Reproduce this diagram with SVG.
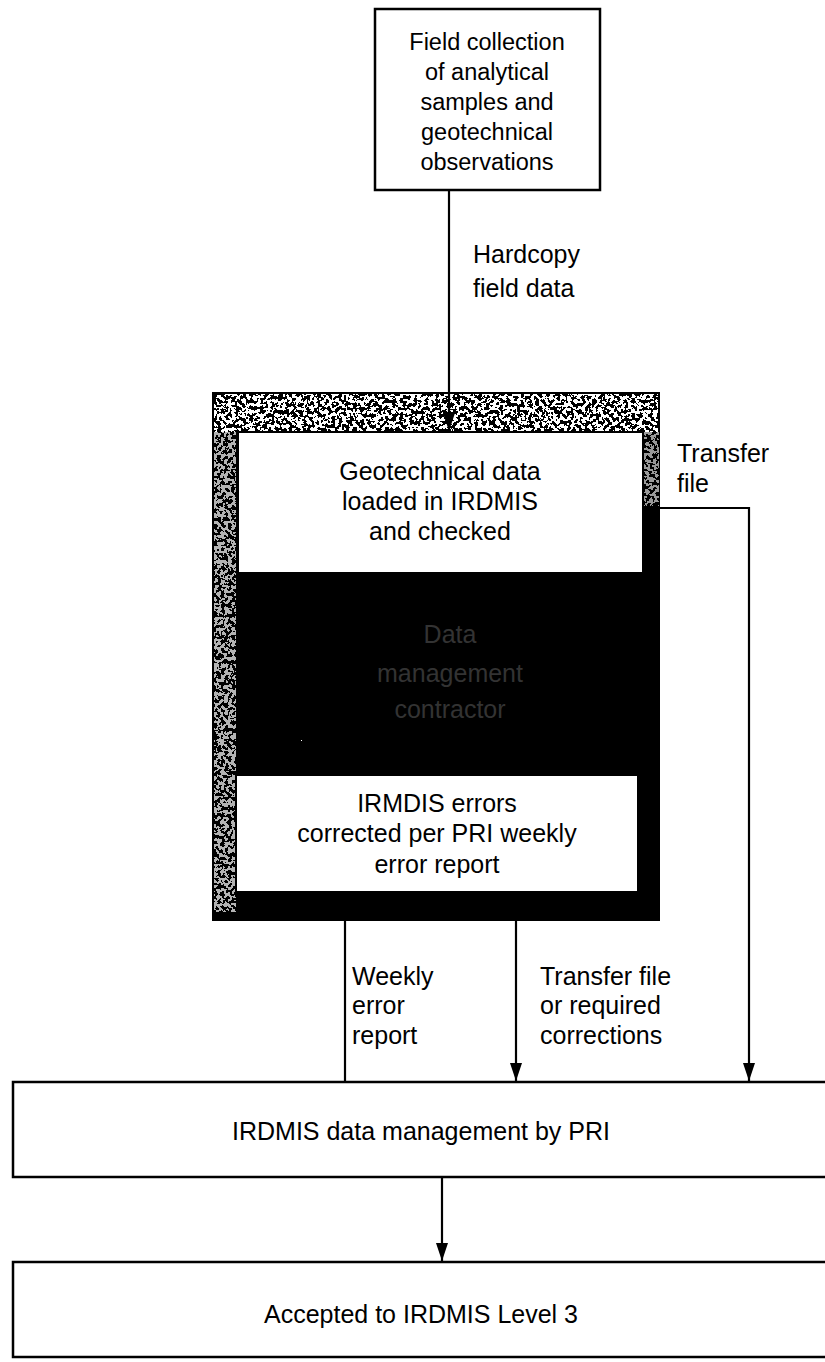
<svg xmlns="http://www.w3.org/2000/svg" width="825" height="1362" viewBox="0 0 825 1362">
<style>
text{font-family:"Liberation Sans",Arial,sans-serif;font-size:25px;fill:#000}
.c{text-anchor:middle}
.sm{font-size:23.5px}
.box{fill:#fff;stroke:#000;stroke-width:2.5}
.ln{fill:none;stroke:#000;stroke-width:2.2}
.faint{fill:#333}
</style>
<defs>
<marker id="ahd" markerUnits="userSpaceOnUse" markerWidth="18" markerHeight="12" refX="18" refY="6" orient="auto" viewBox="0 0 18 12">
<path d="M0,0 L18,6 L0,12 Z" fill="#000"/>
</marker>
<filter id="spkHeavy" x="0" y="0" width="100%" height="100%">
<feTurbulence type="fractalNoise" baseFrequency="0.28" numOctaves="2" seed="7"/>
<feColorMatrix type="matrix" values="0 0 0 0 1 0 0 0 0 1 0 0 0 0 1 1 0 0 0 0"/>
<feComponentTransfer><feFuncA type="discrete" tableValues="0 0 0 0 0 1 1 1 1 1"/></feComponentTransfer>
</filter>
<filter id="spkLight" x="0" y="0" width="100%" height="100%">
<feTurbulence type="fractalNoise" baseFrequency="0.35" numOctaves="2" seed="11"/>
<feColorMatrix type="matrix" values="0 0 0 0 1 0 0 0 0 1 0 0 0 0 1 1 0 0 0 0"/>
<feComponentTransfer><feFuncA type="discrete" tableValues="0 0 0 0 0 0 0 0 0 0 0 0 1"/></feComponentTransfer>
</filter>
</defs>
<rect width="825" height="1362" fill="#fff"/>

<g id="field-collection">
<rect class="box" x="375" y="9" width="225" height="181"/>
<text class="c sm" x="487" y="50">Field collection</text>
<text class="c sm" x="487" y="80">of analytical</text>
<text class="c sm" x="487" y="110">samples and</text>
<text class="c sm" x="487" y="140">geotechnical</text>
<text class="c sm" x="487" y="170">observations</text>
</g>

<g id="data-management-group">
<rect x="212" y="392" width="448" height="529" fill="#000"/>
<rect x="214" y="394" width="444" height="38" filter="url(#spkHeavy)"/>
<rect x="214" y="432" width="22" height="480" filter="url(#spkHeavy)" opacity="0.7"/>
<rect x="643" y="432" width="16" height="74" filter="url(#spkHeavy)" opacity="0.6"/>
<rect x="236" y="574" width="420" height="200" filter="url(#spkLight)"/>
<rect x="236" y="893" width="420" height="25" filter="url(#spkLight)"/>
<text class="c faint" x="450" y="643">Data</text>
<text class="c faint" x="450" y="682">management</text>
<text class="c faint" x="450" y="718">contractor</text>
</g>

<g id="geotechnical-loaded">
<rect x="238" y="432" width="405" height="141" fill="#fff" stroke="#000" stroke-width="2"/>
<text class="c" x="440" y="480">Geotechnical data</text>
<text class="c" x="440" y="510">loaded in IRDMIS</text>
<text class="c" x="440" y="540">and checked</text>
</g>

<g id="errors-corrected">
<rect x="236" y="775" width="402" height="117" fill="#fff" stroke="#000" stroke-width="2"/>
<text class="c" x="437" y="812">IRMDIS errors</text>
<text class="c" x="437" y="842">corrected per PRI weekly</text>
<text class="c" x="437" y="873">error report</text>
</g>

<g id="irdmis-management">
<rect class="box" x="13" y="1082" width="830" height="95"/>
<text class="c" x="421" y="1140">IRDMIS data management by PRI</text>
</g>

<g id="accepted-level3">
<rect class="box" x="13" y="1262" width="830" height="95"/>
<text class="c" x="421" y="1323">Accepted to IRDMIS Level 3</text>
</g>

<g id="connectors">
<line class="ln" x1="449" y1="190" x2="449" y2="431" marker-end="url(#ahd)"/>
<polyline class="ln" points="660,508 749,508 749,1081" marker-end="url(#ahd)"/>
<line class="ln" x1="345" y1="921" x2="345" y2="1082"/>
<line class="ln" x1="516" y1="921" x2="516" y2="1081" marker-end="url(#ahd)"/>
<line class="ln" x1="442" y1="1177" x2="442" y2="1261" marker-end="url(#ahd)"/>
<text x="473" y="263">Hardcopy</text>
<text x="473" y="297">field data</text>
<text x="677" y="462">Transfer</text>
<text x="677" y="492">file</text>
<text x="352" y="985">Weekly</text>
<text x="352" y="1014">error</text>
<text x="352" y="1044">report</text>
<text x="540" y="985">Transfer file</text>
<text x="540" y="1014">or required</text>
<text x="540" y="1044">corrections</text>
</g>
</svg>
